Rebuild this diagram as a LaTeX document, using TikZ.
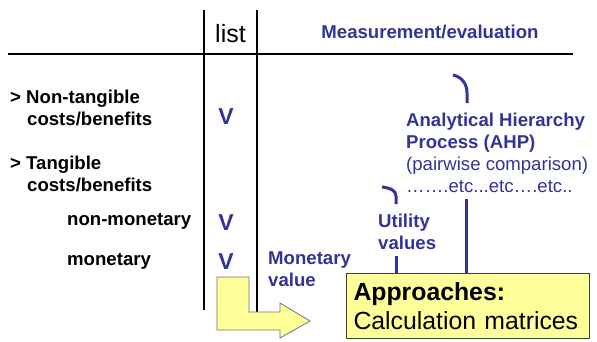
\documentclass[tikz,border=0pt]{standalone}
\usepackage{fontspec}
\setmainfont{Liberation Sans}
\usetikzlibrary{positioning}
\usepackage{xcolor}
\definecolor{evalblue}{RGB}{51,51,153}
\definecolor{notefill}{RGB}{255,255,153}

\begin{document}
\begin{tikzpicture}[x=1pt, y=-1pt, every node/.style={inner sep=0pt, anchor=base west},
    item/.style={font=\fontsize{18.6}{22}\selectfont\bfseries},
    evaltext/.style={item, text=evalblue},
    plaintext/.style={font=\fontsize{18.6}{22}\selectfont, text=evalblue},
    tick/.style={anchor=base, font=\fontsize{23}{26}\selectfont\bfseries, text=evalblue},
    rule/.style={line width=2pt},
    bracket/.style={evalblue, line width=3pt}]
    \useasboundingbox (0,0) rectangle (597,341);

    % table rules
    \draw [rule] (8,54) -- (573,54);
    \draw [rule] (204,10) -- (204,310);
    \draw [rule] (257,10) -- (257,312);

    % headers
    \node [anchor=base, font=\fontsize{25}{28}\selectfont] (list) at (230.5,42) {list};
    \node [evaltext, anchor=base] (meas) at (430,38) {Measurement/evaluation};

    % left column
    \node [item] (nontang) at (10,103) {> Non-tangible};
    \node [item] (nontangcb) at (27,125) {costs/benefits};
    \node [item] (tang) at (10,169) {> Tangible};
    \node [item] (tangcb) at (27,191) {costs/benefits};
    \node [item] (nonmon) at (67,225) {non-monetary};
    \node [item] (mon) at (67,265) {monetary};

    % ticks in the list column
    \node [tick] (v1) at (226,124) {V};
    \node [tick] (v2) at (226,230) {V};
    \node [tick] (v3) at (226,269) {V};

    % measurement column
    \node [evaltext] (monval) at (268,264) {Monetary};
    \node [evaltext] (monval2) at (268,286) {value};
    \node [evaltext] (ahp) at (406,126) {Analytical Hierarchy};
    \node [evaltext] (ahp2) at (406,148) {Process (AHP)};
    \node [plaintext] (pair) at (406,170) {(pairwise comparison)};
    \node [plaintext] (etc) at (406,192) {…….etc...etc….etc..};
    \node [evaltext] (util) at (378,227) {Utility};
    \node [evaltext] (util2) at (378,249) {values};

    % approaches box
    \node [draw=black!75, line width=1pt, fill=notefill, anchor=north west,
           text width=229pt, inner xsep=7pt, minimum height=65pt, align=left,
           font=\fontsize{24.8}{29}\selectfont] (approach) at (346,273)
          {\textbf{Approaches:}\\Calculation matrices};

    % brackets and links down to the box
    \draw [bracket] (453,75) .. controls (462,77) and (467,84) .. (467,93) -- (467,103);
    \draw [bracket] (382,187) .. controls (391,188) and (396,191) .. (396,196) -- (396,204);
    \coordinate (ahplink) at (466,199);
    \coordinate (utillink) at (396,256);
    \draw [bracket] (ahplink) -- (ahplink |- approach.north);
    \draw [bracket] (utillink) -- (utillink |- approach.north);

    % yellow turn arrow
    \draw [draw=black!55, fill=notefill, line width=0.8pt, line join=miter]
        (217,277) -- (249,277) -- (249,312) -- (280,312) -- (280,303) -- (310,321)
        -- (280,338) -- (280,330) -- (217,330) -- cycle;
\end{tikzpicture}
\end{document}
